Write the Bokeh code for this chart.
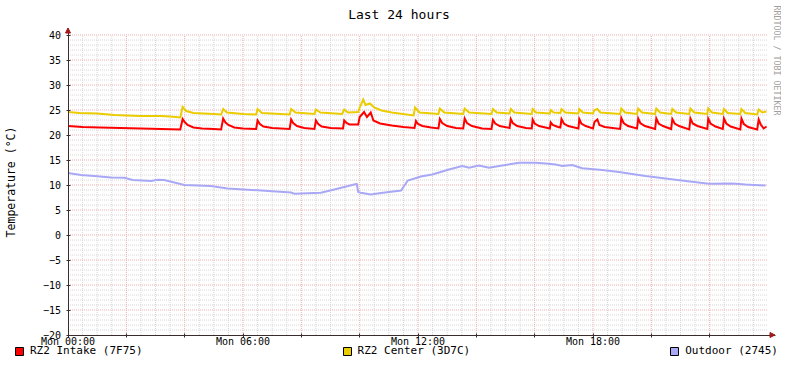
import math
from bokeh.plotting import figure
from bokeh.models import (Range1d, FixedTicker, Legend, LegendItem, Label,
                          Arrow, NormalHead)
from bokeh.embed import file_html
from bokeh.resources import INLINE

# ---------------- data (hours since Mon 00:00, degrees C) ----------------
title_text = "Last 24 hours"
y_label = "Temperature (°C)"
watermark = "RRDTOOL / TOBI OETIKER"

x_tick_hours = [0, 6, 12, 18]
x_tick_labels = ["Mon 00:00", "Mon 06:00", "Mon 12:00", "Mon 18:00"]
y_ticks = [-20, -15, -10, -5, 0, 5, 10, 15, 20, 25, 30, 35, 40]

series_names = ["RZ2 Intake (7F75)", "RZ2 Center (3D7C)", "Outdoor (2745)"]

intake = [
    (0.0, 21.8), (0.5, 21.6), (1.1, 21.5), (1.8, 21.4), (2.5, 21.3), (3.2, 21.2),
    (3.85, 21.1), (3.93, 23.2), (4.0, 22.6), (4.1, 22.0), (4.3, 21.5), (4.6, 21.3),
    (5.0, 21.2), (5.25, 21.1), (5.32, 23.3), (5.4, 22.5), (5.5, 22.0), (5.7, 21.5),
    (6.0, 21.3), (6.45, 21.2), (6.5, 22.9), (6.58, 22.2), (6.7, 21.7), (7.0, 21.4),
    (7.6, 21.2), (7.65, 23.1), (7.72, 22.4), (7.85, 21.8), (8.1, 21.4), (8.45, 21.2),
    (8.5, 22.9), (8.58, 22.2), (8.7, 21.7), (9.0, 21.4), (9.43, 21.3), (9.47, 22.9),
    (9.55, 22.4), (9.65, 22.1), (9.95, 22.1), (10.0, 23.6), (10.15, 24.6), (10.25, 23.6),
    (10.38, 24.5), (10.47, 22.9), (10.7, 22.3), (11.1, 21.9), (11.5, 21.6), (11.88, 21.4),
    (11.93, 22.8), (12.0, 22.2), (12.15, 21.8), (12.45, 21.5), (12.7, 21.3), (12.75, 23.2),
    (12.83, 22.4), (13.0, 21.8), (13.3, 21.4), (13.55, 21.3), (13.6, 23.3), (13.68, 22.4),
    (13.85, 21.8), (14.2, 21.3), (14.52, 21.2), (14.57, 23.0), (14.65, 22.3), (14.8, 21.8),
    (15.14, 21.4), (15.18, 23.2), (15.25, 22.4), (15.4, 21.8), (15.7, 21.4), (15.9, 21.3),
    (15.93, 23.1), (16.0, 22.3), (16.15, 21.8), (16.52, 21.3), (16.55, 22.5), (16.62, 22.0),
    (16.8, 21.6), (16.88, 21.5), (16.92, 23.2), (17.0, 22.3), (17.15, 21.8), (17.5, 21.3),
    (17.53, 23.2), (17.6, 22.3), (17.75, 21.8), (18.0, 21.3), (18.05, 22.6), (18.15, 23.1),
    (18.22, 22.0), (18.4, 21.6), (18.93, 21.2), (18.97, 23.4), (19.05, 22.4), (19.2, 21.8),
    (19.51, 21.3), (19.55, 23.3), (19.62, 22.4), (19.78, 21.8), (20.13, 21.2), (20.17, 23.3),
    (20.25, 22.3), (20.4, 21.8), (20.68, 21.2), (20.72, 23.2), (20.8, 22.3), (20.95, 21.8),
    (21.3, 21.1), (21.34, 23.3), (21.42, 22.3), (21.58, 21.8), (21.92, 21.2), (21.95, 23.3),
    (22.03, 22.3), (22.2, 21.7), (22.45, 21.2), (22.49, 23.3), (22.57, 22.3), (22.72, 21.7),
    (23.05, 21.1), (23.09, 23.3), (23.17, 22.2), (23.32, 21.6), (23.63, 21.1), (23.68, 23.1),
    (23.75, 22.1), (23.85, 21.3), (23.95, 21.7),
]

center = [
    (0.0, 24.6), (0.4, 24.4), (1.0, 24.3), (1.6, 24.0), (2.0, 23.9), (2.5, 23.8),
    (3.2, 23.8), (3.5, 23.7), (3.85, 23.5), (3.93, 25.6), (4.05, 24.8), (4.3, 24.4),
    (5.0, 24.2), (5.25, 24.1), (5.32, 25.2), (5.45, 24.5), (6.0, 24.2), (6.45, 24.1),
    (6.5, 25.2), (6.65, 24.4), (7.6, 24.1), (7.65, 25.2), (7.8, 24.5), (8.45, 24.2),
    (8.5, 25.1), (8.65, 24.5), (9.4, 24.2), (9.47, 25.1), (9.6, 24.5), (9.95, 24.6),
    (10.0, 25.5), (10.12, 27.1), (10.2, 26.0), (10.35, 26.3), (10.5, 25.5), (10.75, 24.9),
    (11.1, 24.5), (11.85, 23.9), (11.9, 25.5), (12.05, 24.5), (12.7, 24.2), (12.75, 25.3),
    (12.9, 24.5), (13.55, 24.2), (13.6, 25.3), (13.75, 24.5), (14.52, 24.2), (14.57, 25.2),
    (14.7, 24.5), (15.14, 24.3), (15.18, 25.2), (15.3, 24.5), (15.9, 24.2), (15.93, 25.2),
    (16.05, 24.5), (16.52, 24.3), (16.55, 25.0), (16.65, 24.5), (16.88, 24.4), (16.92, 25.2),
    (17.05, 24.5), (17.5, 24.3), (17.53, 25.2), (17.65, 24.5), (18.0, 24.3), (18.05, 25.0),
    (18.15, 25.2), (18.25, 24.5), (18.93, 24.2), (18.97, 25.3), (19.1, 24.5), (19.51, 24.2),
    (19.55, 25.3), (19.68, 24.5), (20.13, 24.2), (20.17, 25.3), (20.3, 24.5), (20.68, 24.2),
    (20.72, 25.2), (20.85, 24.5), (21.3, 24.2), (21.34, 25.3), (21.47, 24.5), (21.92, 24.2),
    (21.95, 25.3), (22.08, 24.5), (22.45, 24.2), (22.49, 25.2), (22.62, 24.4), (23.05, 24.2),
    (23.09, 25.2), (23.22, 24.4), (23.63, 24.1), (23.68, 25.1), (23.8, 24.5), (23.95, 24.7),
]

outdoor = [
    (0.0, 12.4), (0.45, 12.0), (0.9, 11.8), (1.47, 11.5), (1.93, 11.45), (2.22, 11.0),
    (2.85, 10.8), (3.08, 11.05), (3.3, 11.0), (3.99, 10.0), (4.9, 9.8), (5.47, 9.3),
    (6.62, 8.9), (7.65, 8.5), (7.76, 8.25), (8.67, 8.45), (9.13, 9.1), (9.81, 10.1),
    (9.9, 10.2), (9.95, 8.6), (10.04, 8.45), (10.39, 8.1), (10.73, 8.4), (11.42, 8.9),
    (11.5, 9.6), (11.65, 10.9), (12.1, 11.7), (12.49, 12.1), (13.06, 13.1), (13.52, 13.8),
    (13.75, 13.45), (14.09, 13.9), (14.43, 13.45), (14.89, 13.9), (15.46, 14.45),
    (16.03, 14.45), (16.38, 14.3), (16.72, 14.1), (16.95, 13.8), (17.29, 14.0),
    (17.63, 13.35), (18.32, 13.0), (18.89, 12.6), (19.8, 11.8), (20.49, 11.3),
    (21.18, 10.8), (21.97, 10.25), (22.77, 10.3), (23.23, 10.1), (23.92, 9.9),
]

# ---------------- layout / styling ----------------
FONT = "DejaVu Sans Mono"
COLORS = ["#FF0000", "#EACC00", "#A8A8F6"]
AXIS_COLOR = "#3A2C2C"
ARROW_COLOR = "#A01818"
MGRID = "#EDAFAF"
GRID = "#D6D6D6"
X_MIN, X_MAX = 0, 24
Y_MIN, Y_MAX = -20, 40
W, H = 781, 357
PX_PER_H = 700 / 24      # pixels per hour
PX_PER_DEG = 5.0         # pixels per degree
X0_PX = 67.5             # canvas px of x = X_MIN
YTOP_PX = 34.5           # canvas px of y = Y_MAX

x_lo = X_MIN - X0_PX / PX_PER_H
x_hi = X_MIN + (W - X0_PX) / PX_PER_H
y_hi = Y_MAX + YTOP_PX / PX_PER_DEG
y_lo = Y_MAX - (H - YTOP_PX) / PX_PER_DEG

p = figure(width=W, height=H, output_backend="svg", toolbar_location=None,
           x_range=Range1d(x_lo, x_hi), y_range=Range1d(y_lo, y_hi), min_border=0)
p.min_border_left = p.min_border_right = p.min_border_top = p.min_border_bottom = 0
p.title.visible = False
p.outline_line_color = None
p.background_fill_color = "white"
p.border_fill_color = "white"
p.xgrid.visible = False
p.ygrid.visible = False

# grid (drawn only over the graph area)
maj_x = [h for h in range(X_MIN + 2, X_MAX, 2)]
min_x = [h / 2 for h in range(1, X_MAX * 2) if (h / 2) % 2 != 0]
maj_y = [v for v in y_ticks if v != Y_MIN]
min_y = [v for v in range(Y_MIN + 1, Y_MAX) if v % 5 != 0]
p.segment(x0=min_x, x1=min_x, y0=[Y_MIN] * len(min_x), y1=[Y_MAX] * len(min_x),
          line_color=GRID, line_dash="1 1", line_width=1)
p.segment(x0=[X_MIN] * len(min_y), x1=[X_MAX] * len(min_y), y0=min_y, y1=min_y,
          line_color=GRID, line_dash="1 1", line_width=1)
p.segment(x0=maj_x, x1=maj_x, y0=[Y_MIN] * len(maj_x), y1=[Y_MAX] * len(maj_x),
          line_color=MGRID, line_dash="1 1", line_width=1)
p.segment(x0=[X_MIN] * len(maj_y), x1=[X_MAX] * len(maj_y), y0=maj_y, y1=maj_y,
          line_color=MGRID, line_dash="1 1", line_width=1)

# axes through the graph corner
ax_x_end = X_MAX + 7 / PX_PER_H
ax_y_end = Y_MAX + 7 / PX_PER_DEG
xax = p.xaxis[0]
xax.fixed_location = Y_MIN
xax.bounds = (X_MIN, ax_x_end)
xax.ticker = FixedTicker(ticks=list(range(X_MIN, X_MAX, 2)), minor_ticks=[])
overrides = {h: "" for h in range(X_MIN, X_MAX, 2)}
for h, lab in zip(x_tick_hours, x_tick_labels):
    overrides[h] = lab
xax.major_label_overrides = overrides
yax = p.yaxis[0]
yax.fixed_location = X_MIN
yax.bounds = (Y_MIN, ax_y_end)
yax.ticker = FixedTicker(ticks=y_ticks, minor_ticks=[])
yax.axis_label = y_label
yax.axis_label_text_font = FONT
yax.axis_label_text_font_size = "11.5px"
yax.axis_label_text_font_style = "normal"
yax.axis_label_text_color = "black"
yax.axis_label_standoff = 22
for ax in (xax, yax):
    ax.axis_line_color = AXIS_COLOR
    ax.major_tick_line_color = AXIS_COLOR
    ax.major_tick_out = 2
    ax.major_tick_in = 2
    ax.minor_tick_line_color = None
    ax.major_label_text_font = FONT
    ax.major_label_text_font_size = "10px"
    ax.major_label_text_color = "black"
xax.major_label_standoff = -1
yax.major_label_standoff = 5

# arrow heads at the axis ends
for xs, ys, xe, ye in [(X_MIN, Y_MAX, X_MIN, ax_y_end), (X_MAX, Y_MIN, ax_x_end, Y_MIN)]:
    p.add_layout(Arrow(end=NormalHead(size=5, fill_color=ARROW_COLOR,
                                      line_color=ARROW_COLOR, line_width=1),
                       x_start=xs, y_start=ys, x_end=xe, y_end=ye, line_alpha=0))

# data lines (+ legend swatches that carry no visible data)
NAN = float("nan")
legend_items = []
for name, pts, col in zip(series_names, [intake, center, outdoor], COLORS):
    xs = [t for t, _ in pts]
    ys = [v for _, v in pts]
    p.line(xs, ys, line_color=col, line_width=2, line_join="miter")
    box = p.quad(left=[NAN], right=[NAN], top=[NAN], bottom=[NAN], fill_color=col,
                 line_color="black", line_width=1)
    legend_items.append(LegendItem(label=name, renderers=[box]))

legend = Legend(items=legend_items, orientation="horizontal", location=(14, 0),
                spacing=199, glyph_width=10, glyph_height=10, label_standoff=6,
                label_height=10, label_width=10, padding=0, margin=0,
                border_line_color=None, background_fill_alpha=0,
                label_text_font=FONT, label_text_font_size="11px",
                label_text_color="black")
p.add_layout(legend, "center")

# title and watermark
p.add_layout(Label(x=398.5, y=H - 14, x_units="screen", y_units="screen", text=title_text,
                   text_align="center", text_baseline="middle", text_font=FONT,
                   text_font_size="13px", text_color="black"))
p.add_layout(Label(x=776, y=H - 5, x_units="screen", y_units="screen", text=watermark,
                   angle=-math.pi / 2, text_align="left", text_baseline="middle",
                   text_font=FONT, text_font_size="8.3px", text_color="#A0A0A0"))

open("out.html", "w").write(file_html(p, INLINE))
